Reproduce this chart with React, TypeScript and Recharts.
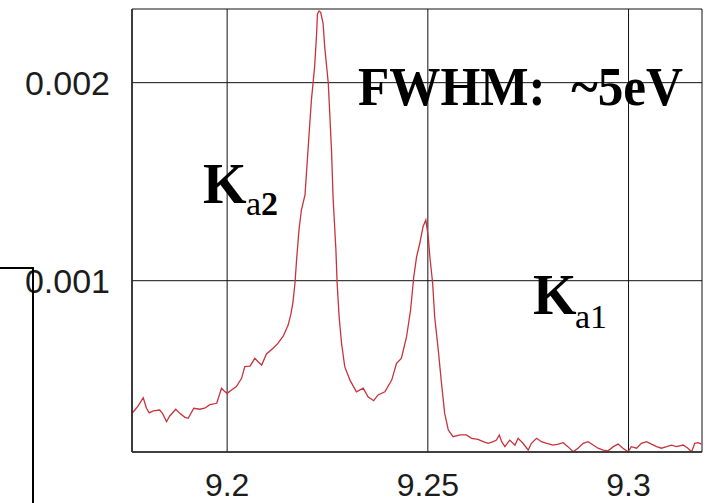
import { LineChart, Line, XAxis, YAxis, CartesianGrid } from 'recharts'

// photon energy (keV) and counts
const energy = [
  9.1763, 9.1770, 9.1778, 9.1791, 9.1799, 9.1806, 9.1816, 9.1832, 9.1839, 9.1849,
  9.1857, 9.1872, 9.1882, 9.1895, 9.1903, 9.1917, 9.1932, 9.1944, 9.1957, 9.1974,
  9.1986, 9.1992, 9.2000, 9.2011, 9.2023, 9.2036, 9.2044, 9.2057, 9.2069, 9.2077,
  9.2086, 9.2098, 9.2115, 9.2127, 9.2140, 9.2152, 9.2159, 9.2164, 9.2169, 9.2173,
  9.2179, 9.2185, 9.2194, 9.2199, 9.2204, 9.2210, 9.2218, 9.2223, 9.2225, 9.2229,
  9.2233, 9.2239, 9.2243, 9.2252, 9.2256, 9.2260, 9.2264, 9.2271, 9.2274, 9.2279,
  9.2285, 9.2293, 9.2306, 9.2322, 9.2339, 9.2351, 9.2365, 9.2376, 9.2393, 9.2410,
  9.2422, 9.2434, 9.2447, 9.2457, 9.2465, 9.2472, 9.2480, 9.2488, 9.2495, 9.2501,
  9.2505, 9.2512, 9.2517, 9.2526, 9.2534, 9.2542, 9.2551, 9.2563, 9.2580, 9.2596,
  9.2609, 9.2625, 9.2638, 9.2650, 9.2663, 9.2671, 9.2678, 9.2684, 9.2692, 9.2704,
  9.2717, 9.2725, 9.2737, 9.2750, 9.2758, 9.2771, 9.2783, 9.2796, 9.2812, 9.2825,
  9.2837, 9.2849, 9.2862, 9.2874, 9.2887, 9.2899, 9.2912, 9.2924, 9.2937, 9.2949,
  9.2962, 9.2974, 9.2986, 9.2999, 9.3007, 9.3020, 9.3032, 9.3045, 9.3057, 9.3070,
  9.3082, 9.3095, 9.3107, 9.3119, 9.3136, 9.3148, 9.3157, 9.3165, 9.3173, 9.3182,
]
const counts = [
  0.000330, 0.000347, 0.000367, 0.000409, 0.000356, 0.000333, 0.000343, 0.000347, 0.000330, 0.000288,
  0.000317, 0.000351, 0.000330, 0.000310, 0.000305, 0.000356, 0.000351, 0.000356, 0.000374, 0.000381,
  0.000457, 0.000444, 0.000431, 0.000448, 0.000465, 0.000507, 0.000566, 0.000569, 0.000608, 0.000591,
  0.000574, 0.000630, 0.000660, 0.000685, 0.000721, 0.000776, 0.000832, 0.000892, 0.000987, 0.001105,
  0.001256, 0.001357, 0.001433, 0.001584, 0.001736, 0.001913, 0.002081, 0.002251, 0.002347, 0.002362,
  0.002355, 0.002300, 0.002182, 0.001997, 0.001828, 0.001660, 0.001418, 0.001155, 0.000987, 0.000818,
  0.000684, 0.000566, 0.000498, 0.000439, 0.000457, 0.000414, 0.000394, 0.000423, 0.000439, 0.000498,
  0.000583, 0.000608, 0.000717, 0.000852, 0.001020, 0.001121, 0.001189, 0.001273, 0.001307, 0.001222,
  0.001121, 0.000987, 0.000818, 0.000650, 0.000482, 0.000330, 0.000246, 0.000212, 0.000221, 0.000221,
  0.000204, 0.000199, 0.000187, 0.000179, 0.000187, 0.000195, 0.000221, 0.000187, 0.000162, 0.000195,
  0.000170, 0.000204, 0.000179, 0.000145, 0.000179, 0.000204, 0.000187, 0.000179, 0.000170, 0.000175,
  0.000182, 0.000162, 0.000136, 0.000154, 0.000179, 0.000187, 0.000170, 0.000154, 0.000145, 0.000141,
  0.000162, 0.000175, 0.000154, 0.000136, 0.000162, 0.000154, 0.000179, 0.000187, 0.000175, 0.000162,
  0.000154, 0.000162, 0.000170, 0.000162, 0.000170, 0.000154, 0.000136, 0.000179, 0.000182, 0.000175,
]
const xTicks = [9.2, 9.25, 9.3]
const yTicks = [0.001, 0.002]
const xDomain = [9.1763, 9.3183]
const yDomain = [0.000135, 0.002372]

const data = energy.map((e, i) => ({ e, c: counts[i] }))

const sans = '"Liberation Sans", Arial, sans-serif'
const xTickStyle = { fontSize: 32, fill: '#1c1c1c', fontFamily: sans }
const yTickStyle = { fontSize: 34, fill: '#1c1c1c', fontFamily: sans }
const frame = { stroke: '#2a2a2a', strokeWidth: 1.6 }
const serif = '"Liberation Serif", "Times New Roman", serif'

export default function App() {
  return (
    <div style={{ position: 'absolute', left: 0, top: 0, width: 715, height: 503, background: '#fff' }}>
      <LineChart width={715} height={503} data={data} margin={{ top: 9, right: 13, left: 0, bottom: 0 }}>
        <CartesianGrid stroke="#111" strokeWidth={1} />
        <XAxis dataKey="e" type="number" domain={xDomain} ticks={xTicks} allowDataOverflow height={51}
          tickLine={false} tickSize={0} tickMargin={21} axisLine={frame} tick={xTickStyle} />
        <XAxis xAxisId="top" orientation="top" type="number" domain={xDomain} allowDataOverflow height={0}
          tick={false} tickLine={false} axisLine={frame} />
        <YAxis type="number" domain={yDomain} ticks={yTicks} allowDataOverflow width={132}
          tickLine={false} tickSize={0} tickMargin={22} axisLine={frame} tick={yTickStyle} />
        <YAxis yAxisId="right" orientation="right" type="number" domain={yDomain} allowDataOverflow width={0}
          tick={false} tickLine={false} axisLine={frame} />
        <Line type="linear" dataKey="c" stroke="#c8323c" strokeWidth={1.3} dot={false} isAnimationActive={false} />
      </LineChart>
      <svg width={715} height={503} style={{ position: 'absolute', left: 0, top: 0, pointerEvents: 'none' }}>
        <text x={358} y={105} fontFamily={serif} fontWeight="bold" fontSize={55} textLength={325} lengthAdjust="spacingAndGlyphs">
          FWHM:{'\u00a0\u00a0'}~5eV
        </text>
        <text x={203} y={203} fontFamily={serif} fontWeight="bold" fontSize={56}>K</text>
        <text x={246} y={215} fontFamily={serif} fontSize={34}>a<tspan fontWeight="bold">2</tspan></text>
        <text x={533} y={314} fontFamily={serif} fontWeight="bold" fontSize={56}>K</text>
        <text x={575} y={328} fontFamily={serif} fontSize={34}>a1</text>
        <polyline points="0,268 33,268 33,503" fill="none" stroke="#000" strokeWidth={2} />
      </svg>
    </div>
  )
}
